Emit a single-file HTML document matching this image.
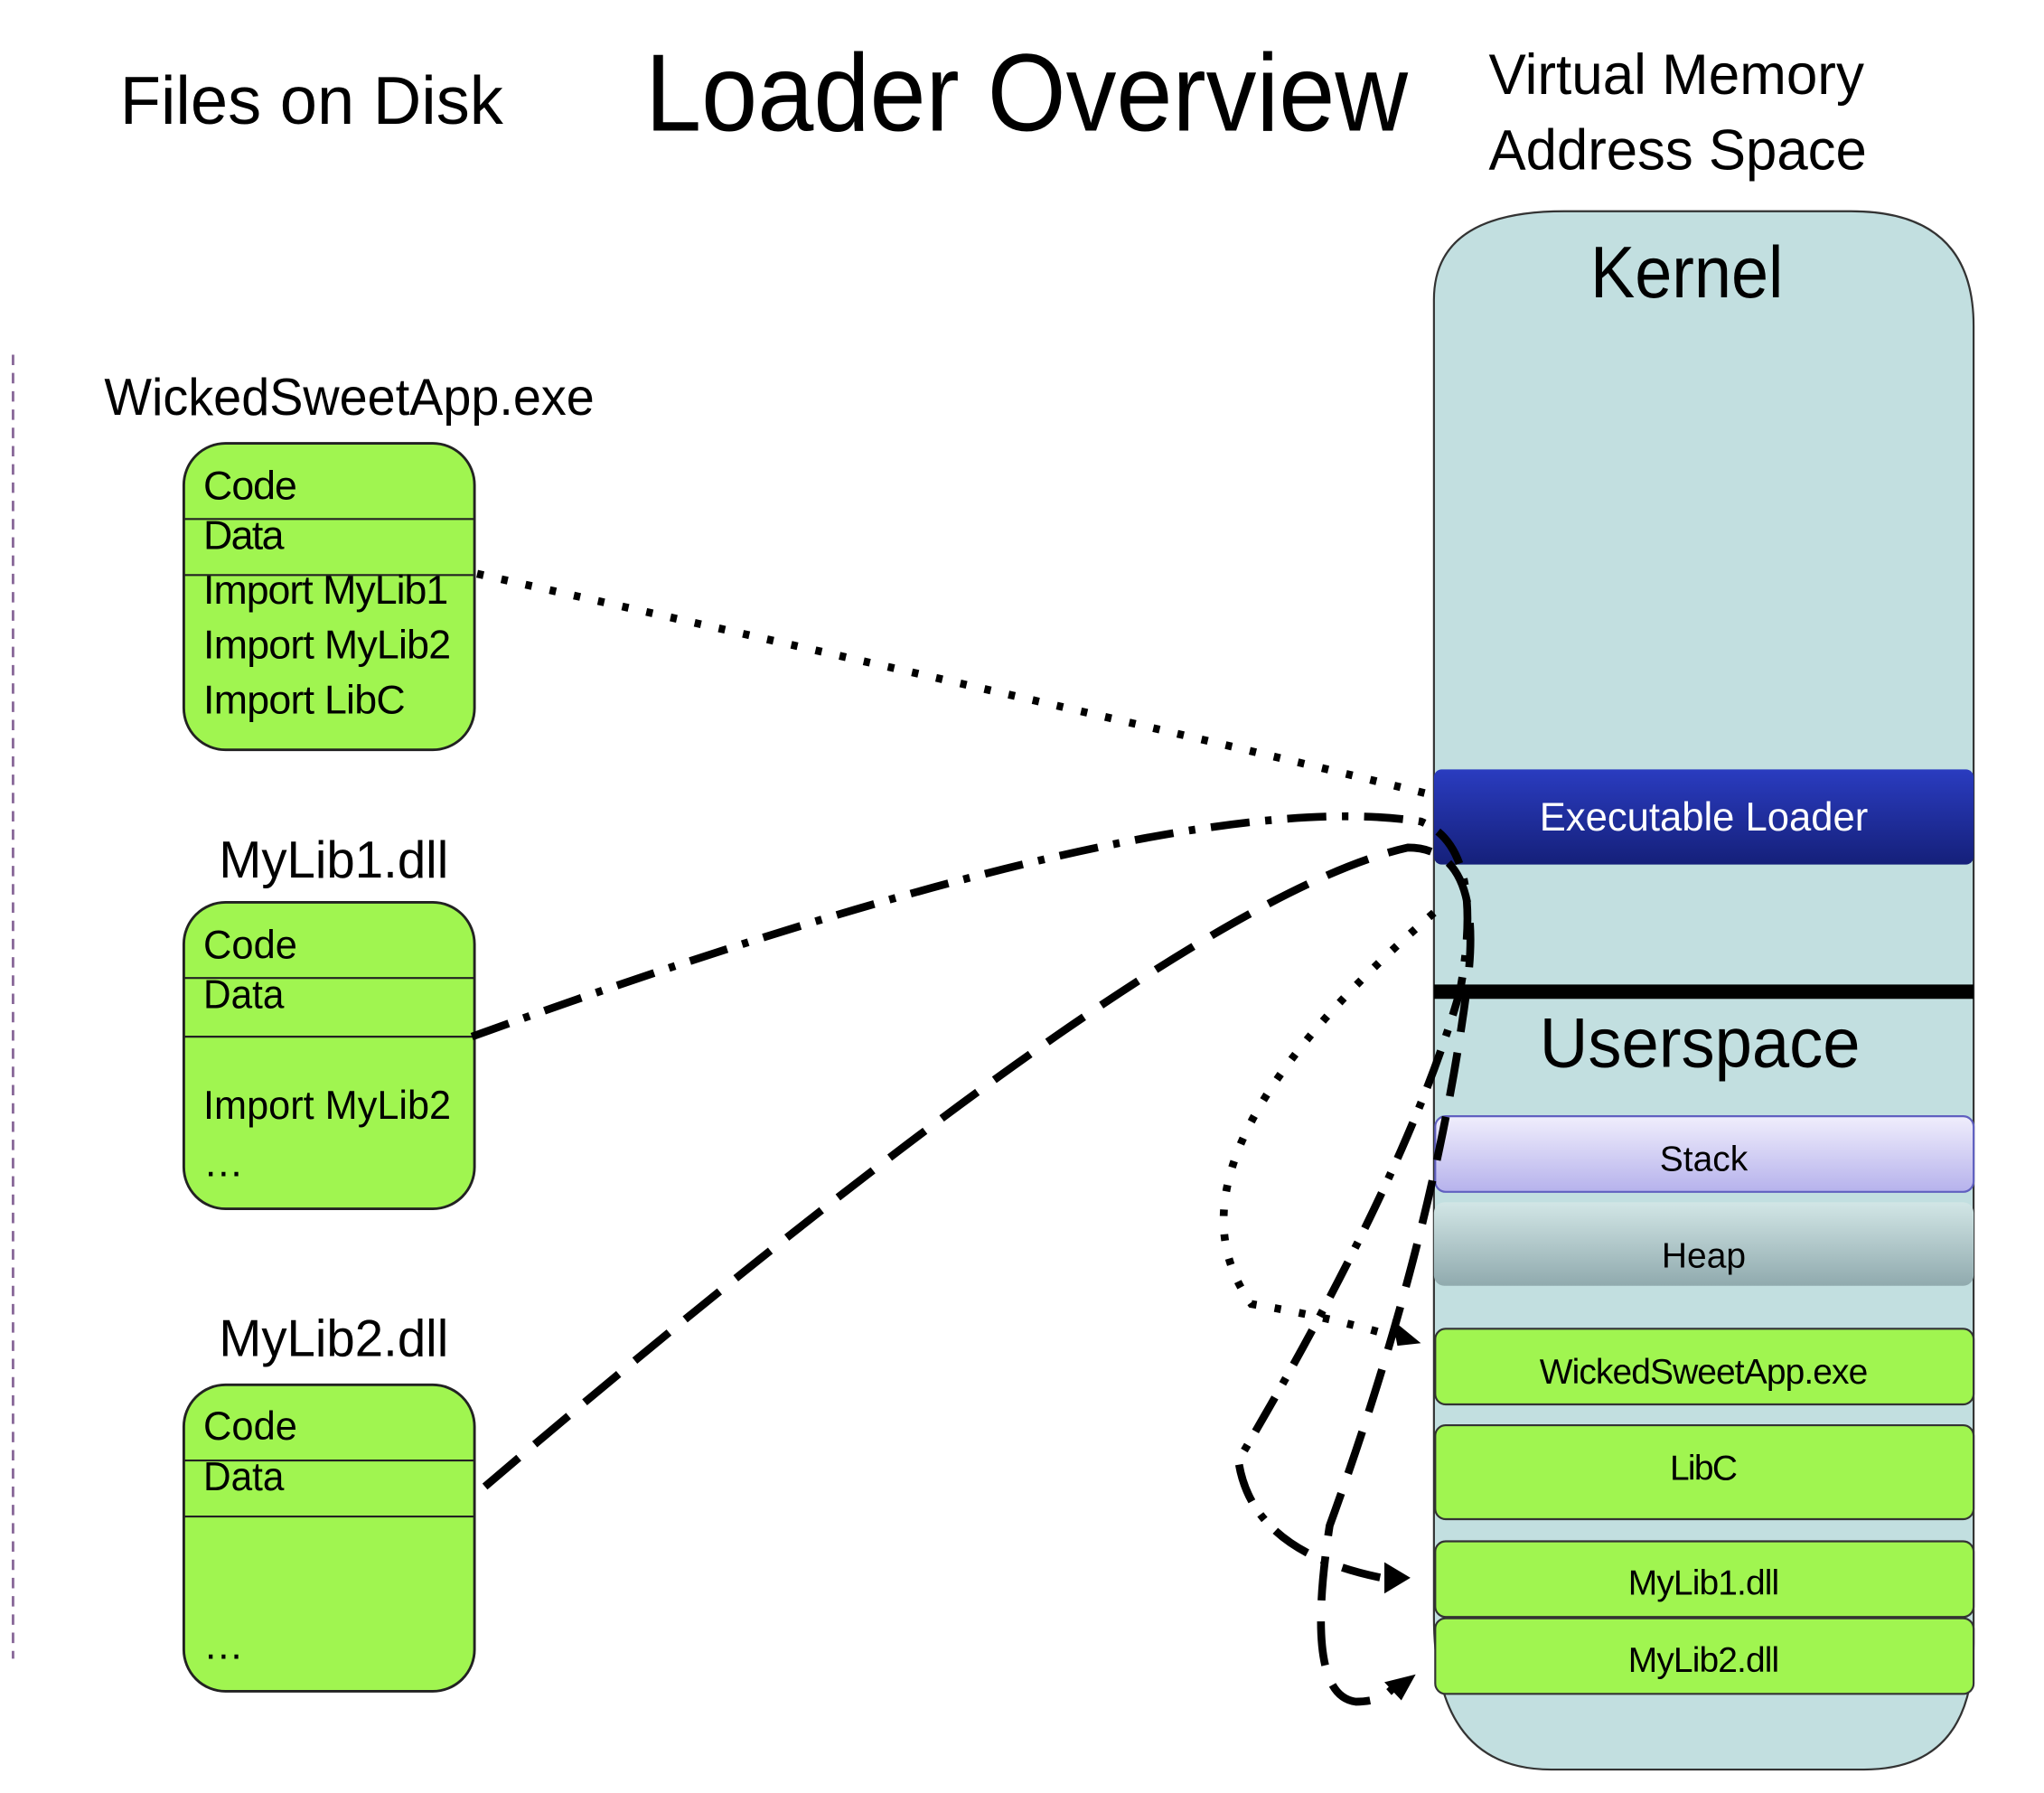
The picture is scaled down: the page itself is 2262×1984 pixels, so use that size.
<!DOCTYPE html>
<html><head><meta charset="utf-8"><style>
html,body{margin:0;padding:0;background:#fff;}
svg{display:block;}
text{font-family:"Liberation Sans",sans-serif;}
</style></head><body>
<svg width="2262" height="1984" viewBox="0 0 1568 1375" preserveAspectRatio="none" xmlns="http://www.w3.org/2000/svg">
<defs>
<linearGradient id="ldr" x1="0" y1="0" x2="0" y2="1"><stop offset="0" stop-color="#2a3cc0"/><stop offset="1" stop-color="#15207a"/></linearGradient>
<linearGradient id="stk" x1="0" y1="0" x2="0" y2="1"><stop offset="0" stop-color="#f0eefc"/><stop offset="1" stop-color="#b6b2ec"/></linearGradient>
<linearGradient id="hp" x1="0" y1="0" x2="0" y2="1"><stop offset="0" stop-color="#d2e6e6"/><stop offset="1" stop-color="#90aaae"/></linearGradient>
</defs>
<text x="92" y="95" font-size="52" textLength="294" lengthAdjust="spacingAndGlyphs">Files on Disk</text>
<text x="495" y="100" font-size="84" textLength="585" lengthAdjust="spacingAndGlyphs">Loader Overview</text>
<text x="1142" y="72" font-size="44" textLength="288" lengthAdjust="spacingAndGlyphs">Virtual Memory</text>
<text x="1142" y="130" font-size="44" textLength="290" lengthAdjust="spacingAndGlyphs">Address Space</text>
<line x1="10" y1="272" x2="10" y2="1272" stroke="#8a6a9a" stroke-width="2" stroke-dasharray="8,6"/>

<text x="80" y="318" font-size="40" textLength="376" lengthAdjust="spacingAndGlyphs">WickedSweetApp.exe</text>
<rect x="141" y="340" width="223" height="235" rx="32" fill="#a0f550" stroke="#222" stroke-width="2"/>
<line x1="141" y1="398" x2="364" y2="398" stroke="#222" stroke-width="1.5"/>
<line x1="141" y1="441" x2="364" y2="441" stroke="#222" stroke-width="1.5"/>
<g font-size="31" lengthAdjust="spacingAndGlyphs"><text x="156" y="383" textLength="72">Code</text><text x="156" y="421" textLength="62">Data</text><text x="156" y="463" textLength="188">Import MyLib1</text><text x="156" y="505" textLength="190">Import MyLib2</text><text x="156" y="547" textLength="155">Import LibC</text></g>

<text x="168" y="673" font-size="40" textLength="176" lengthAdjust="spacingAndGlyphs">MyLib1.dll</text>
<rect x="141" y="692" width="223" height="235" rx="32" fill="#a0f550" stroke="#222" stroke-width="2"/>
<line x1="141" y1="750" x2="364" y2="750" stroke="#222" stroke-width="1.5"/>
<line x1="141" y1="795" x2="364" y2="795" stroke="#222" stroke-width="1.5"/>
<g font-size="31"><text x="156" y="735" textLength="72" lengthAdjust="spacingAndGlyphs">Code</text><text x="156" y="773" textLength="62" lengthAdjust="spacingAndGlyphs">Data</text><text x="156" y="858" textLength="190" lengthAdjust="spacingAndGlyphs">Import MyLib2</text><text x="156" y="902">…</text></g>

<text x="168" y="1040" font-size="40" textLength="176" lengthAdjust="spacingAndGlyphs">MyLib2.dll</text>
<rect x="141" y="1062" width="223" height="235" rx="32" fill="#a0f550" stroke="#222" stroke-width="2"/>
<line x1="141" y1="1120" x2="364" y2="1120" stroke="#222" stroke-width="1.5"/>
<line x1="141" y1="1163" x2="364" y2="1163" stroke="#222" stroke-width="1.5"/>
<g font-size="31"><text x="156" y="1104" textLength="72" lengthAdjust="spacingAndGlyphs">Code</text><text x="156" y="1143" textLength="62" lengthAdjust="spacingAndGlyphs">Data</text><text x="156" y="1272">…</text></g>

<path d="M1100,1240 L1100,230 Q1100,162 1200,162 L1420,162 Q1514,162 1514,250 L1514,1260 Q1514,1357 1430,1357 L1190,1357 Q1100,1357 1100,1240 Z" fill="#c2dfe0" stroke="#333" stroke-width="1.5"/>
<text x="1294" y="228" font-size="56" text-anchor="middle" textLength="148" lengthAdjust="spacingAndGlyphs">Kernel</text>
<rect x="1100" y="590" width="414" height="73" rx="6" fill="url(#ldr)"/>
<text x="1307" y="637" font-size="31" fill="#fff" text-anchor="middle" textLength="252" lengthAdjust="spacingAndGlyphs">Executable Loader</text>
<rect x="1100" y="755" width="414" height="11" fill="#000"/>
<text x="1304" y="818" font-size="54" text-anchor="middle" textLength="246" lengthAdjust="spacingAndGlyphs">Userspace</text>
<rect x="1101" y="856" width="413" height="58" rx="8" fill="url(#stk)" stroke="#6060c0" stroke-width="1.5"/>
<text x="1307" y="898" font-size="27" text-anchor="middle">Stack</text>
<rect x="1100" y="922" width="414" height="64" rx="8" fill="url(#hp)"/>
<text x="1307" y="972" font-size="27" text-anchor="middle">Heap</text>
<g fill="#a0f550" stroke="#333" stroke-width="1.5">
<rect x="1101" y="1019" width="413" height="58" rx="8"/>
<rect x="1101" y="1093" width="413" height="72" rx="8"/>
<rect x="1101" y="1182" width="413" height="58" rx="8"/>
<rect x="1101" y="1241" width="413" height="58" rx="8"/>
</g>
<g font-size="27" text-anchor="middle" lengthAdjust="spacingAndGlyphs"><text x="1307" y="1061" textLength="252">WickedSweetApp.exe</text><text x="1307" y="1135" textLength="52">LibC</text><text x="1307" y="1223" textLength="116">MyLib1.dll</text><text x="1307" y="1282" textLength="116">MyLib2.dll</text></g>

<g fill="none" stroke="#000" stroke-width="6">
<path d="M366,440 Q900,560 1100,610" stroke-dasharray="5,14"/>
<path d="M1100,700 Q880,890 960,1000 Q1020,1010 1070,1025" stroke-dasharray="5,14"/>
<path d="M362,795 Q900,600 1090,630 Q1140,650 1120,760 Q1080,900 950,1120 Q960,1190 1060,1210" stroke-dasharray="30,12,5,12"/>
<path d="M372,1140 Q900,690 1080,650 Q1140,650 1125,760 Q1100,950 1020,1170 Q1000,1300 1040,1305 Q1060,1305 1068,1295" stroke-dasharray="34,16"/>
</g>
<g fill="#000">
<polygon points="1090,1030 1068,1012 1072,1032"/>
<polygon points="1082,1210 1062,1198 1062,1222"/>
<polygon points="1086,1284 1062,1290 1075,1304"/>
</g>
</svg>
</body></html>
